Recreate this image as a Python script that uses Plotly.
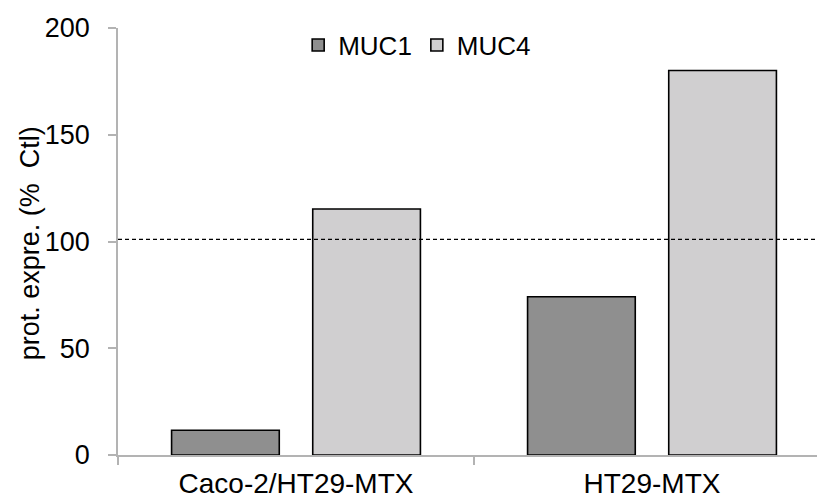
import plotly.graph_objects as go

categories = ["Caco-2/HT29-MTX", "HT29-MTX"]
muc1_values = [11.6, 74.1]
muc4_values = [115.2, 180.1]
control_level = 101
y_tick_values = [0, 50, 100, 150, 200]
y_title = "prot. expre. (%\u00a0\u00a0Ctl)"

FONT = "Liberation Sans, Arial, sans-serif"
BAR_W = 0.3025
INNER_GAP = 0.094

fig = go.Figure()
fig.add_trace(go.Bar(
    x=categories, y=muc1_values, name="MUC1",
    width=BAR_W, offset=-(INNER_GAP / 2 + BAR_W),
    marker=dict(color="#8f8f8f", line=dict(color="#000000", width=1.6)),
))
fig.add_trace(go.Bar(
    x=categories, y=muc4_values, name="MUC4",
    width=BAR_W, offset=INNER_GAP / 2,
    marker=dict(color="#d0cfd0", line=dict(color="#000000", width=1.6)),
))

fig.add_shape(type="line", xref="paper", yref="y", x0=0, x1=1,
              y0=control_level, y1=control_level,
              line=dict(color="#000000", width=1.2, dash="4px,3px"))

fig.add_annotation(text=y_title, xref="paper", yref="paper",
                   x=-0.1265, y=0.495, xanchor="center", yanchor="middle",
                   textangle=-90, showarrow=False,
                   font=dict(family=FONT, size=27, color="#000000"))

fig.update_layout(
    width=817, height=499,
    margin=dict(l=118, r=0, t=28, b=44, autoexpand=False),
    paper_bgcolor="white", plot_bgcolor="white",
    barmode="overlay",
    font=dict(family=FONT, size=27, color="#000000"),
    showlegend=True,
    legend=dict(orientation="h", x=0.428, xanchor="center", y=0.96, yanchor="middle",
                font=dict(family=FONT, size=26, color="#000000"),
                bgcolor="rgba(0,0,0,0)", itemclick=False, itemwidth=30,
                tracegroupgap=0),
    xaxis=dict(
        type="category", range=[-0.5, 1.4635], automargin=False,
        showline=True, linecolor="#b3b3b3", linewidth=1.5,
        tickson="boundaries", ticks="outside", ticklen=8, tickcolor="#b3b3b3", tickwidth=1.5,
        showgrid=False, zeroline=False,
        tickfont=dict(family=FONT, size=28, color="#000000"),
        ticklabelstandoff=3,
    ),
    yaxis=dict(
        range=[0, 200], tickvals=y_tick_values, automargin=False,
        showline=True, linecolor="#b3b3b3", linewidth=1.5,
        ticks="outside", ticklen=8, tickcolor="#b3b3b3", tickwidth=1.5,
        showgrid=False, zeroline=False,
        tickfont=dict(family=FONT, size=27, color="#000000"),
        ticklabelstandoff=13,
    ),
)

fig.write_html("out.html", config={"displayModeBar": False},
               post_script="document.body.style.margin='0';")
